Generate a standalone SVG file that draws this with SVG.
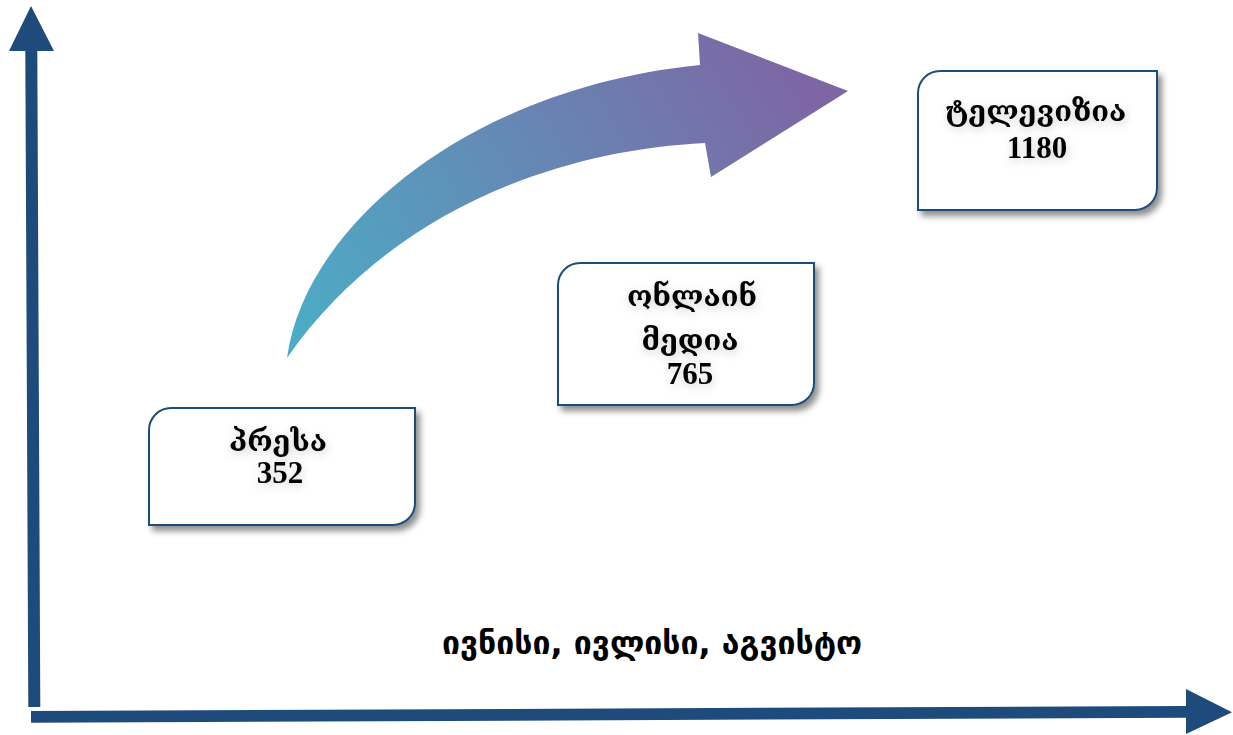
<svg xmlns="http://www.w3.org/2000/svg" width="1233" height="735" viewBox="0 0 1233 735">
<defs>
<style>
.axis{fill:#1F4A7C}
.box{fill:#FFFFFF;stroke:#1F4E79;stroke-width:2;filter:url(#sh)}
.geo{font-family:"DejaVu Serif","DejaVu Sans",serif;font-weight:bold;font-size:29px;fill:#000;text-anchor:middle}
.num{font-family:"Liberation Serif","Times New Roman",serif;font-weight:bold;font-size:31px;fill:#000;text-anchor:middle}
.lbl{font-family:"DejaVu Sans",sans-serif;font-weight:bold;font-size:32px;fill:#000}
</style>
<filter id="sh" x="-10%" y="-10%" width="125%" height="130%">
<feDropShadow dx="4" dy="5" stdDeviation="3" flood-color="#000" flood-opacity="0.45"/>
</filter>
<filter id="tg" x="-20%" y="-30%" width="140%" height="170%">
<feDropShadow dx="1" dy="3" stdDeviation="4" flood-color="#000" flood-opacity="0.18"/>
</filter>
<linearGradient id="grad" gradientUnits="userSpaceOnUse" x1="287" y1="358" x2="800" y2="60">
<stop offset="0" stop-color="#4AAEC7"/>
<stop offset="1" stop-color="#7E65A3"/>
</linearGradient>
</defs>
<g id="connectors">
<path id="curved-arrow" fill="url(#grad)" d="M287,358 C305,225 470,88 700,65 L698,33 L848,91 L711,177 L705,143 C560,150 390,210 287,358 Z"/>
<polygon id="y-axis" class="axis" points="25.3,51 9,51 31,6 54,51 37.3,51 40.3,707 28.3,707"/>
<polygon id="x-axis" class="axis" points="31,711 1186,706 1186,689 1232,712.3 1186,734 1186,717.7 31,722.7"/>
</g>
<g id="node-tv">
<path class="box" d="M940,71 H1157 V188 A22,22 0 0 1 1135,210 H918 V93 A22,22 0 0 1 940,71 Z"/>
<g filter="url(#tg)">
<text class="geo" x="1036" y="121">ტელევიზია</text>
<text class="num" x="1037" y="158">1180</text>
</g>
</g>
<g id="node-online">
<path class="box" d="M580,263 H814 V383 A22,22 0 0 1 792,405 H558 V285 A22,22 0 0 1 580,263 Z"/>
<g filter="url(#tg)">
<text class="geo" x="692" y="306">ონლაინ</text>
<text class="geo" x="690" y="350">მედია</text>
<text class="num" x="690" y="384">765</text>
</g>
</g>
<g id="node-press">
<path class="box" d="M171,408 H415 V503 A22,22 0 0 1 393,525 H149 V430 A22,22 0 0 1 171,408 Z"/>
<g filter="url(#tg)">
<text class="geo" x="278" y="451">პრესა</text>
<text class="num" x="280" y="483">352</text>
</g>
</g>
<text id="x-label" class="lbl" x="442" y="654">ივნისი, ივლისი, აგვისტო</text>
</svg>
